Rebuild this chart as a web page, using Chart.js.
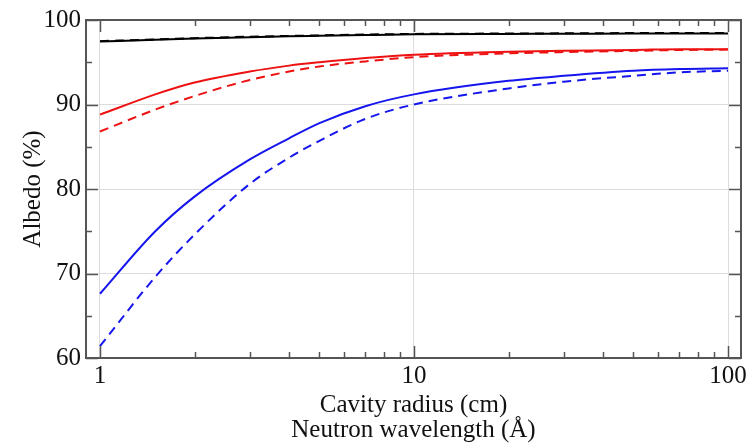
<!DOCTYPE html>
<html>
<head>
<meta charset="utf-8">
<script src="https://cdn.jsdelivr.net/npm/chart.js@4/dist/chart.umd.min.js"></script>
<style>
  body { margin: 0; background: #fff; }
  #wrap { width: 750px; height: 448px; }
</style>
</head>
<body>
<div id="wrap"><canvas id="albedo"></canvas></div>
<script>
// cavity radius (cm) / neutron wavelength (A)
var radius = [1, 1.5, 2, 3, 4, 5, 7, 10, 20, 30, 50, 70, 100];

var blackSolid  = [97.45, 97.65, 97.8, 97.97, 98.07, 98.13, 98.22, 98.3, 98.35, 98.37, 98.4, 98.4, 98.4];
var blackDashed = [97.5, 97.7, 97.85, 98.02, 98.12, 98.18, 98.28, 98.35, 98.4, 98.42, 98.45, 98.45, 98.45];
var redSolid    = [88.8, 91.2, 92.6, 93.9, 94.6, 95.0, 95.5, 95.9, 96.25, 96.35, 96.45, 96.55, 96.55];
var redDashed   = [86.8, 89.4, 91.0, 92.9, 93.9, 94.5, 95.1, 95.6, 96.05, 96.2, 96.35, 96.45, 96.5];
var blueSolid   = [67.6, 75.0, 79.1, 83.5, 86.0, 87.8, 89.8, 91.2, 92.8, 93.4, 94.0, 94.2, 94.3];
var blueDashed  = [61.4, 69.6, 74.6, 80.6, 83.7, 85.7, 88.3, 90.0, 91.9, 92.7, 93.4, 93.8, 94.0];

var xTicks = [1, 10, 100];
var xMinor = [2, 3, 4, 5, 6, 7, 8, 9, 20, 30, 40, 50, 60, 70, 80, 90];
var yTicks = [60, 70, 80, 90, 100];
var yMinor = [65, 75, 85, 95];

function pts(ys) {
    return radius.map(function (x, i) { return { x: x, y: ys[i] }; });
}

function line(ys, color, dashed) {
    return {
        data: pts(ys),
        borderColor: color,
        borderWidth: 2,
        borderDash: dashed ? [9, 6] : [],
        pointRadius: 0,
        fill: false,
        cubicInterpolationMode: 'monotone'
    };
}

var serif = 'Liberation Serif, Times New Roman, serif';

// frame plus inward tick marks on all four sides
var frameTicks = {
    id: 'frameTicks',
    afterDraw: function (chart) {
        var ctx = chart.ctx;
        var a = chart.chartArea;
        var xs = chart.scales.x, ys = chart.scales.y;
        ctx.save();
        ctx.strokeStyle = '#555';
        ctx.lineWidth = 1.5;
        ctx.beginPath();
        function vtick(v, len) {
            var px = Math.round(xs.getPixelForValue(v)) + 0.5;
            ctx.moveTo(px, a.bottom); ctx.lineTo(px, a.bottom - len);
            ctx.moveTo(px, a.top); ctx.lineTo(px, a.top + len);
        }
        function htick(v, len) {
            var py = Math.round(ys.getPixelForValue(v)) + 0.5;
            ctx.moveTo(a.left, py); ctx.lineTo(a.left + len, py);
            ctx.moveTo(a.right, py); ctx.lineTo(a.right - len, py);
        }
        xTicks.forEach(function (v) { vtick(v, 12); });
        xMinor.forEach(function (v) { vtick(v, 6); });
        yTicks.forEach(function (v) { htick(v, 12); });
        yMinor.forEach(function (v) { htick(v, 6); });
        ctx.stroke();
        ctx.lineWidth = 2;
        ctx.strokeRect(a.left, a.top, a.right - a.left, a.bottom - a.top);
        ctx.restore();
    }
};

window.onload = function () {
    var ctx = document.getElementById('albedo').getContext('2d');
    window.albedoChart = new Chart(ctx, {
        type: 'line',
        data: {
            datasets: [
                line(blackSolid, '#000000', false),
                line(blackDashed, '#000000', true),
                line(redSolid, '#ee1111', false),
                line(redDashed, '#ee1111', true),
                line(blueSolid, '#1515ee', false),
                line(blueDashed, '#1515ee', true)
            ]
        },
        options: {
            responsive: true,
            maintainAspectRatio: false,
            animation: false,
            layout: { padding: { top: 20, right: 9, left: 0, bottom: 0 } },
            plugins: { legend: { display: false }, tooltip: { enabled: false } },
            scales: {
                x: {
                    type: 'logarithmic',
                    min: 0.9025,
                    max: 110,
                    afterBuildTicks: function (axis) {
                        axis.ticks = xTicks.map(function (v) { return { value: v, major: true }; });
                    },
                    afterFit: function (axis) { axis.height = 90; },
                    ticks: {
                        autoSkip: false,
                        maxRotation: 0,
                        padding: 3,
                        color: '#111',
                        font: { family: serif, size: 25 },
                        callback: function (v) { return String(v); }
                    },
                    grid: { color: '#dcdcdc', lineWidth: 1, drawTicks: false },
                    border: { display: false },
                    title: {
                        display: true,
                        text: ['Cavity radius (cm)', 'Neutron wavelength (Å)'],
                        color: '#111',
                        font: { family: serif, size: 25, lineHeight: 1 },
                        padding: { top: 0, bottom: 5 }
                    }
                },
                y: {
                    min: 60,
                    max: 100,
                    afterFit: function (axis) { axis.width = 86; },
                    ticks: {
                        stepSize: 10,
                        padding: 5,
                        color: '#111',
                        font: { family: serif, size: 25 }
                    },
                    grid: { color: '#dcdcdc', lineWidth: 1, drawTicks: false },
                    border: { display: false },
                    title: {
                        display: true,
                        text: 'Albedo (%)',
                        color: '#111',
                        font: { family: serif, size: 25, lineHeight: 1 },
                        padding: { top: 21, bottom: 0 }
                    }
                }
            }
        },
        plugins: [frameTicks]
    });
};
</script>
</body>
</html>
